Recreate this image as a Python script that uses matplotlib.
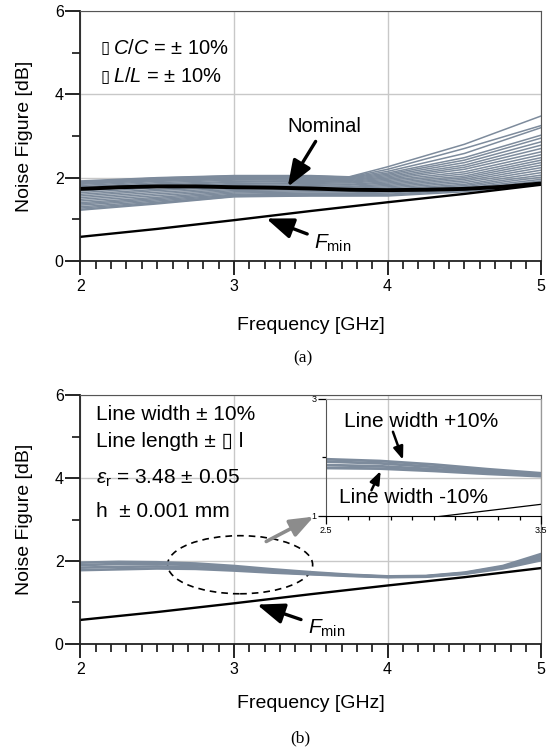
import matplotlib
matplotlib.use("Agg")
import matplotlib.pyplot as plt
from matplotlib.patches import Ellipse
from matplotlib.ticker import MultipleLocator

plt.rcParams["font.family"] = ["Liberation Sans", "DejaVu Sans"]
plt.rcParams["mathtext.fontset"] = "custom"
plt.rcParams["mathtext.rm"] = "Liberation Sans"
plt.rcParams["mathtext.it"] = "Liberation Sans:italic"

# ---------------- data (a): Monte-Carlo of C, L ----------------
freq_mc = [2.0, 2.5, 3.0, 3.5, 3.75, 4.0, 4.5, 5.0]
mc_curves_a = [
    [1.92, 2.00, 2.05, 2.05, 2.02, 2.26, 2.80, 3.48],
    [1.90, 1.99, 2.04, 2.04, 2.01, 2.20, 2.70, 3.25],
    [1.88, 1.97, 2.02, 2.03, 2.00, 2.15, 2.58, 3.20],
    [1.86, 1.95, 2.00, 2.01, 1.99, 2.11, 2.48, 3.02],
    [1.84, 1.93, 1.98, 1.99, 1.97, 2.08, 2.42, 2.95],
    [1.81, 1.91, 1.96, 1.97, 1.95, 2.05, 2.36, 2.86],
    [1.78, 1.88, 1.94, 1.95, 1.93, 2.02, 2.30, 2.78],
    [1.75, 1.85, 1.91, 1.93, 1.91, 1.99, 2.25, 2.70],
    [1.72, 1.82, 1.89, 1.91, 1.89, 1.96, 2.20, 2.62],
    [1.68, 1.79, 1.86, 1.88, 1.87, 1.93, 2.14, 2.55],
    [1.64, 1.76, 1.84, 1.86, 1.84, 1.90, 2.09, 2.48],
    [1.60, 1.72, 1.81, 1.83, 1.82, 1.87, 2.04, 2.42],
    [1.56, 1.69, 1.78, 1.81, 1.79, 1.84, 2.00, 2.36],
    [1.52, 1.65, 1.75, 1.78, 1.77, 1.81, 1.96, 2.30],
    [1.48, 1.61, 1.72, 1.75, 1.74, 1.78, 1.92, 2.24],
    [1.44, 1.57, 1.69, 1.72, 1.71, 1.75, 1.88, 2.18],
    [1.40, 1.53, 1.66, 1.69, 1.68, 1.72, 1.84, 2.12],
    [1.37, 1.50, 1.63, 1.66, 1.66, 1.69, 1.81, 2.06],
    [1.34, 1.47, 1.60, 1.63, 1.63, 1.66, 1.78, 2.01],
    [1.30, 1.44, 1.58, 1.61, 1.61, 1.63, 1.75, 1.96],
    [1.27, 1.41, 1.56, 1.59, 1.59, 1.60, 1.72, 1.92],
    [1.24, 1.39, 1.55, 1.57, 1.57, 1.58, 1.69, 1.88],
    [1.22, 1.37, 1.54, 1.56, 1.56, 1.56, 1.66, 1.84],
]

freq_nom = [2.0, 2.25, 2.5, 2.75, 3.0, 3.25, 3.5, 3.75, 4.0, 4.25, 4.5, 4.75, 5.0]
nominal_a = [1.73, 1.77, 1.79, 1.79, 1.77, 1.76, 1.74, 1.71, 1.70, 1.71, 1.73, 1.78, 1.86]

freq_fmin = [2.0, 2.5, 3.0, 3.5, 4.0, 4.5, 5.0]
fmin = [0.58, 0.77, 0.98, 1.20, 1.41, 1.61, 1.83]

# ---------------- data (b): line width / length / er / h ----------------
freq_b = [2.0, 2.25, 2.5, 2.75, 3.0, 3.25, 3.5, 3.75, 4.0, 4.25, 4.5, 4.75, 5.0]
nf_b_curves = [
    [1.96, 1.98, 1.97, 1.94, 1.88, 1.80, 1.73, 1.67, 1.63, 1.64, 1.72, 1.88, 2.17],
    [1.90, 1.93, 1.93, 1.90, 1.84, 1.77, 1.71, 1.66, 1.62, 1.63, 1.71, 1.86, 2.12],
    [1.84, 1.86, 1.87, 1.85, 1.80, 1.74, 1.69, 1.65, 1.62, 1.63, 1.70, 1.84, 2.07],
    [1.78, 1.80, 1.82, 1.81, 1.77, 1.72, 1.68, 1.64, 1.61, 1.62, 1.69, 1.82, 2.02],
]

GREY = "#7d8b9c"
GRID = "#c8c8c8"
ARROW = "-|>,head_length=1.1,head_width=0.42"


def style_axes(ax):
    ax.set_xlim(2, 5)
    ax.set_ylim(0, 6)
    ax.xaxis.set_major_locator(MultipleLocator(1))
    ax.xaxis.set_minor_locator(MultipleLocator(0.1))
    ax.yaxis.set_major_locator(MultipleLocator(2))
    ax.yaxis.set_minor_locator(MultipleLocator(1))
    ax.tick_params(axis="x", which="major", direction="out", length=10, width=1.2, labelsize=11.5, pad=3)
    ax.tick_params(axis="y", which="major", direction="out", length=11, width=1.2, labelsize=11.5, pad=1)
    ax.tick_params(which="minor", direction="out", length=5.5, width=1.1)
    ax.grid(True, which="major", color=GRID, lw=1)
    ax.set_axisbelow(True)
    for s in ["left", "bottom"]:
        ax.spines[s].set_color("#222222")
        ax.spines[s].set_linewidth(1.3)
    ax.spines["top"].set_color("#555555")
    ax.spines["right"].set_color("#555555")
    ax.set_xlabel("Frequency [GHz]", fontsize=14)
    ax.set_ylabel("Noise Figure [dB]", fontsize=14)
    ax.yaxis.set_label_coords(-0.102, 0.5)


fig = plt.figure(figsize=(5.54, 7.49), dpi=100)

# ---------------- (a) ----------------
ax1 = fig.add_axes([0.145, 0.6515, 0.832, 0.334])
style_axes(ax1)
ax1.xaxis.set_label_coords(0.5, -0.225)
for c in mc_curves_a:
    ax1.plot(freq_mc, c, color=GREY, lw=1.1)
ax1.plot(freq_nom, nominal_a, color="black", lw=2.8)
ax1.plot(freq_fmin, fmin, color="black", lw=1.7)

ax1.text(2.13, 5.1, "\u25af", fontsize=12, va="center", family="DejaVu Sans")
ax1.text(2.215, 5.1, "$C/C$ = \u00b1 10%", fontsize=14.5, va="center")
ax1.text(2.13, 4.42, "\u25af", fontsize=12, va="center", family="DejaVu Sans")
ax1.text(2.215, 4.42, "$L/L$ = \u00b1 10%", fontsize=14.5, va="center")
ax1.annotate("Nominal", xy=(3.35, 1.78), xytext=(3.59, 3.22), fontsize=14.5,
             ha="center", va="center",
             arrowprops=dict(arrowstyle=ARROW, color="black", lw=2.4,
                             shrinkA=2, shrinkB=0))
ax1.annotate("$F_{\\mathrm{min}}$", xy=(3.21, 1.02), xytext=(3.52, 0.42), fontsize=15,
             ha="left", va="center",
             arrowprops=dict(arrowstyle=ARROW, color="black", lw=2.4,
                             shrinkA=3, shrinkB=0))
fig.text(0.547, 0.522, "(a)", fontsize=12.5, family="Liberation Serif", ha="center", va="center")

# ---------------- (b) ----------------
ax2 = fig.add_axes([0.145, 0.1402, 0.832, 0.3324])
style_axes(ax2)
ax2.xaxis.set_label_coords(0.5, -0.205)
for c in nf_b_curves:
    ax2.plot(freq_b, c, color=GREY, lw=1.9)
ax2.plot(freq_fmin, fmin, color="black", lw=1.7)

ax2.text(2.105, 5.52, "Line width \u00b1 10%", fontsize=15, va="center")
ax2.text(2.105, 4.88, "Line length \u00b1 \u25af l", fontsize=15, va="center")
ax2.text(2.105, 3.99, "$\\varepsilon_{\\mathrm{r}}$ = 3.48 \u00b1 0.05", fontsize=15, va="center")
ax2.text(2.105, 3.19, "h  \u00b1 0.001 mm", fontsize=15, va="center")
ax2.add_patch(Ellipse((3.04, 1.91), 0.944, 1.40, fill=False, ls=(0, (4, 3)), lw=1.2, color="black"))
ax2.annotate("", xy=(3.52, 3.07), xytext=(3.21, 2.47),
             arrowprops=dict(arrowstyle=ARROW, color="#8c8c8c", lw=2.6,
                             shrinkA=0, shrinkB=0, mutation_scale=13))
ax2.annotate("$F_{\\mathrm{min}}$", xy=(3.15, 0.95), xytext=(3.48, 0.38), fontsize=15,
             ha="left", va="center",
             arrowprops=dict(arrowstyle=ARROW, color="black", lw=2.4,
                             shrinkA=3, shrinkB=0))
fig.text(0.542, 0.0147, "(b)", fontsize=12.5, family="Liberation Serif", ha="center", va="center")

# inset
axi = fig.add_axes([0.589, 0.3111, 0.388, 0.1562])
axi.patch.set_alpha(0)
for c in nf_b_curves:
    axi.plot(freq_b, c, color=GREY, lw=2.0)
axi.plot(freq_fmin, fmin, color="black", lw=0.9)
axi.set_xlim(2.5, 3.5)
axi.set_ylim(1, 3)
axi.set_xticks([2.5, 3.5])
axi.set_yticks([1, 3])
axi.xaxis.set_minor_locator(MultipleLocator(0.1))
axi.yaxis.set_minor_locator(MultipleLocator(1))
axi.tick_params(which="major", direction="out", length=6, width=0.9, labelsize=6.5, pad=1)
axi.tick_params(which="minor", direction="out", length=3, width=0.9)
axi.spines["top"].set_color("#999999")
axi.spines["right"].set_color("#999999")
axi.spines["left"].set_color("#555555")
axi.text(2.58, 2.61, "Line width +10%", fontsize=15, va="center")
axi.text(2.56, 1.32, "Line width -10%", fontsize=15, va="center")
axi.annotate("", xy=(2.857, 1.96), xytext=(2.81, 2.44),
             arrowprops=dict(arrowstyle=ARROW, color="black", lw=1.8,
                             shrinkA=0, shrinkB=0, mutation_scale=7))
axi.annotate("", xy=(2.753, 1.77), xytext=(2.71, 1.44),
             arrowprops=dict(arrowstyle=ARROW, color="black", lw=1.8,
                             shrinkA=0, shrinkB=0, mutation_scale=7))

fig.savefig("out.png", dpi=100)
